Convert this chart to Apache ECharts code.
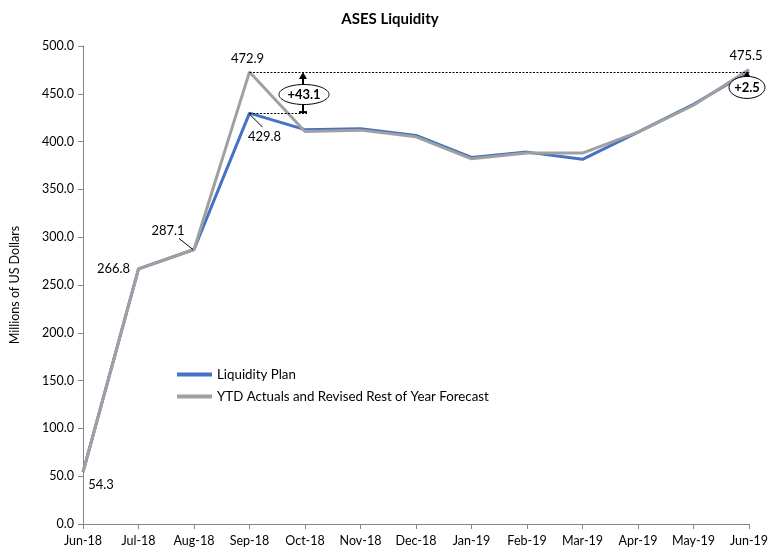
<!DOCTYPE html>
<html><head><meta charset="utf-8">
<script src="https://cdn.jsdelivr.net/npm/echarts@6/dist/echarts.min.js"></script>
<style>html,body{margin:0;padding:0;background:#fff}#c{width:780px;height:550px}</style>
</head><body><div id="c"></div>
<script>
const categories = ['Jun-18','Jul-18','Aug-18','Sep-18','Oct-18','Nov-18','Dec-18','Jan-19','Feb-19','Mar-19','Apr-19','May-19','Jun-19'];
const planValues = [54.3, 266.8, 287.1, 429.8, 412.5, 413.5, 406.5, 383.5, 389.0, 381.5, 410.0, 439.0, 473.0];
const actualValues = [54.3, 266.8, 287.1, 472.9, 410.5, 412.0, 405.0, 382.0, 388.0, 388.0, 410.0, 438.0, 475.5];
const yTicks = [0, 50, 100, 150, 200, 250, 300, 350, 400, 450, 500];
const seriesNames = ['Liquidity Plan', 'YTD Actuals and Revised Rest of Year Forecast'];
const deltaSep = '+43.1';
const deltaJun = '+2.5';

const FONT = 'Lato';
const labelStyle = {show:true, position:'inside', color:'#000', fontFamily:FONT, fontSize:13};
const actualLabels = {0:[18,13], 1:[-25,0], 2:[-26,-19], 3:[-2,-13], 12:[-3,-14]};
const planLabels = {3:[15,24]};

function mk(values, labels){
  return values.map((v,i)=> labels[i] ? {value:v, label:Object.assign({}, labelStyle, {offset:labels[i], formatter:v.toFixed(1)})} : v);
}

const chart = echarts.init(document.getElementById('c'), null, {renderer:'canvas'});
chart.setOption({
  animation:false,
  title:{text:'ASES Liquidity', left:'center', top:7, textStyle:{fontFamily:FONT, fontSize:15, fontWeight:'bold', color:'#000'}},
  grid:{left:80, right:31, top:46, bottom:26, containLabel:false},
  legend:{orient:'vertical', left:172, top:363, itemWidth:35, itemHeight:4, itemGap:9, icon:'rect',
    textStyle:{fontFamily:FONT, fontSize:13.3, color:'#000'}, data:seriesNames},
  xAxis:{type:'category', data:categories, boundaryGap:false,
    axisLine:{lineStyle:{color:'#868686', width:1}},
    axisTick:{show:true, length:5, interval:0, lineStyle:{color:'#868686'}},
    axisLabel:{fontFamily:FONT, fontSize:12.5, color:'#000', margin:10, interval:0}},
  yAxis:{type:'value', min:yTicks[0], max:yTicks[yTicks.length-1], interval:yTicks[1]-yTicks[0],
    name:'Millions of US Dollars', nameLocation:'middle', nameRotate:90, nameGap:62,
    nameTextStyle:{fontFamily:FONT, fontSize:12.5, color:'#000'},
    axisLine:{show:true, lineStyle:{color:'#868686'}},
    axisTick:{show:true, inside:false, length:5, lineStyle:{color:'#868686'}},
    splitLine:{show:false},
    axisLabel:{fontFamily:FONT, fontSize:12.5, color:'#000', margin:9, formatter:v=>v.toFixed(1)}},
  series:[
    {name:seriesNames[0], type:'line', data:mk(planValues, planLabels), color:'#4472C4',
     lineStyle:{width:3, color:'#4472C4'}, symbol:'circle', symbolSize:0.1, showSymbol:true, itemStyle:{color:'#4472C4'}, label:{show:false}},
    {name:seriesNames[1], type:'line', data:mk(actualValues, actualLabels), color:'#A0A0A0',
     lineStyle:{width:3, color:'#A0A0A0'}, symbol:'circle', symbolSize:0.1, showSymbol:true, itemStyle:{color:'#A0A0A0'}, label:{show:false}}
  ]
});

function px(i, v){ return chart.convertToPixel({xAxisIndex:0, yAxisIndex:0}, [i, v]); }
const pSep = px(3, actualValues[3]);
const pSepPlan = px(3, planValues[3]);
const pOct = px(4, planValues[3]);
const pJun = px(12, actualValues[12]);
const pPlanSepLbl = [pSepPlan[0] + planLabels[3][0], pSepPlan[1] + planLabels[3][1]];
const pAug = px(2, actualValues[2]);
const augLbl = [pAug[0] + actualLabels[2][0], pAug[1] + actualLabels[2][1]];
const ax = pOct[0] - 2;
const midY = (pSep[1] + pSepPlan[1]) / 2 + 2;
const dash = {stroke:'#000', lineWidth:1, lineDash:[2,1.5]};
chart.setOption({graphic:[
  {type:'line', shape:{x1:pSep[0], y1:Math.round(pSep[1])+0.5, x2:pJun[0], y2:Math.round(pSep[1])+0.5}, style:dash, z:5},
  {type:'line', shape:{x1:pSepPlan[0], y1:Math.round(pSepPlan[1])+0.5, x2:pOct[0]+2, y2:Math.round(pSepPlan[1])+0.5}, style:dash, z:5},
  {type:'line', shape:{x1:ax, y1:pSepPlan[1], x2:ax, y2:pSep[1]+6}, style:{stroke:'#000', lineWidth:2}, z:5},
  {type:'line', shape:{x1:ax-4, y1:pSepPlan[1]-1, x2:ax+4, y2:pSepPlan[1]-1}, style:{stroke:'#000', lineWidth:2}, z:5},
  {type:'polygon', shape:{points:[[ax, pSep[1]], [ax-4, pSep[1]+7], [ax+4, pSep[1]+7]]}, style:{fill:'#000'}, z:5},
  {type:'ellipse', shape:{cx:ax+1, cy:midY, rx:25, ry:10}, style:{fill:'#fff', stroke:'#000', lineWidth:1}, z:6},
  {type:'text', x:ax+1, y:midY, style:{text:deltaSep, fontFamily:FONT, fontSize:13, fontWeight:'bold', fill:'#000', align:'center', verticalAlign:'middle'}, z:7},
  {type:'polygon', shape:{points:[[pJun[0]-2, pJun[1]+2], [pJun[0]-6, pJun[1]+8], [pJun[0]+2, pJun[1]+8]]}, style:{fill:'#000'}, z:5},
  {type:'ellipse', shape:{cx:pJun[0]-2, cy:pJun[1]+18, rx:18, ry:11}, style:{fill:'#fff', stroke:'#000', lineWidth:1}, z:6},
  {type:'text', x:pJun[0]-2, y:pJun[1]+18, style:{text:deltaJun, fontFamily:FONT, fontSize:13, fontWeight:'bold', fill:'#000', align:'center', verticalAlign:'middle'}, z:7},
  {type:'line', shape:{x1:pSepPlan[0], y1:pSepPlan[1]+1, x2:pPlanSepLbl[0]-2, y2:pPlanSepLbl[1]-10}, style:{stroke:'#000', lineWidth:1}, z:5},
  {type:'line', shape:{x1:pAug[0]-1, y1:pAug[1], x2:augLbl[0]+11, y2:augLbl[1]+8}, style:{stroke:'#000', lineWidth:1}, z:5}
]});
</script></body></html>
